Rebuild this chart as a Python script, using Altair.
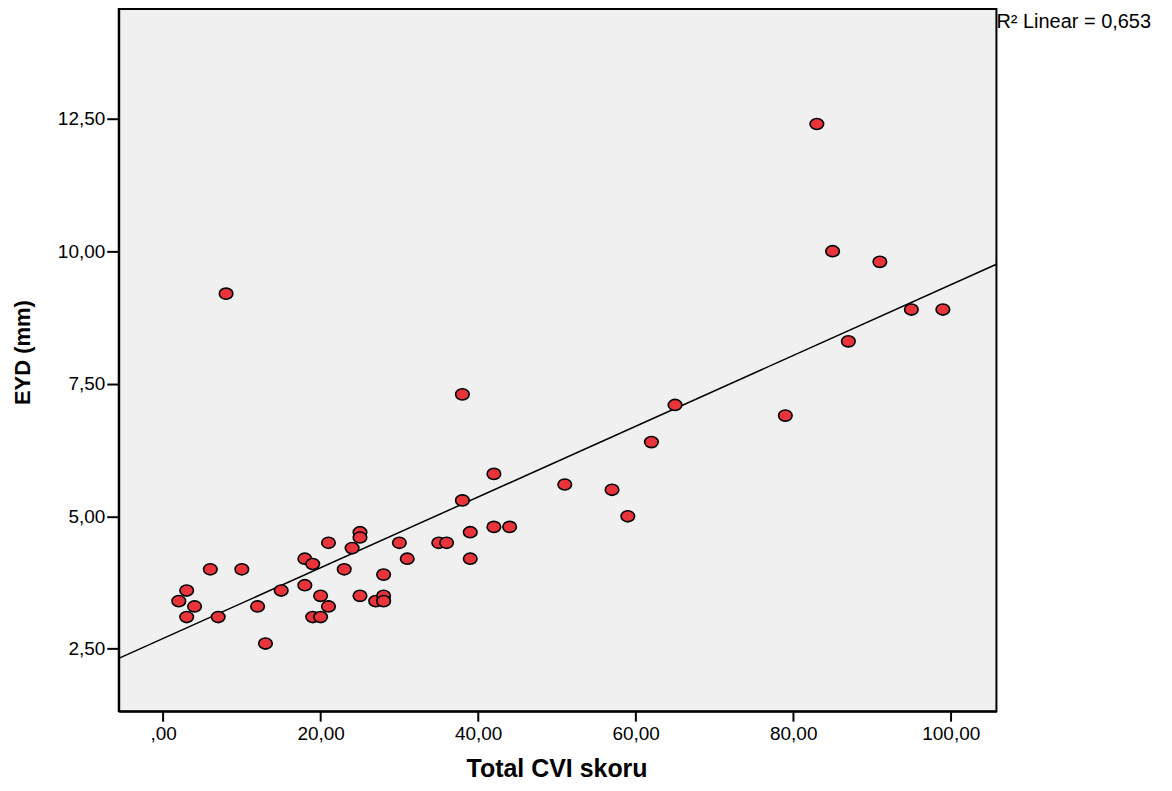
import altair as alt
import pandas as pd

cvi = [2, 3, 4, 3, 6, 7, 8, 10, 12, 13, 15, 18, 18, 19, 19, 20, 20, 21, 21, 23,
       24, 25, 25, 25, 27, 28, 28, 28, 30, 31, 35, 36, 38, 38, 39, 39, 42, 42, 44,
       51, 57, 59, 62, 65, 79, 83, 85, 87, 91, 95, 99]
eyd = [3.4, 3.6, 3.3, 3.1, 4.0, 3.1, 9.2, 4.0, 3.3, 2.6, 3.6, 4.2, 3.7, 4.1, 3.1, 3.1, 3.5, 4.5, 3.3, 4.0,
       4.4, 4.7, 4.6, 3.5, 3.4, 3.9, 3.5, 3.4, 4.5, 4.2, 4.5, 4.5, 7.3, 5.3, 4.7, 4.2, 5.8, 4.8, 4.8,
       5.6, 5.5, 5.0, 6.4, 7.1, 6.9, 12.4, 10.0, 8.3, 9.8, 8.9, 8.9]
x_ticks = [0, 20, 40, 60, 80, 100]
y_ticks = [2.5, 5.0, 7.5, 10.0, 12.5]
r2_label = ["R\u00b2  Linear = 0,653"]

df = pd.DataFrame({"cvi": cvi, "eyd": eyd})
x_dom = [-5.63, 105.8]
y_dom = [1.324, 14.569]

FONT = "Liberation Sans"

x_axis = alt.Axis(
    values=x_ticks,
    labelExpr="datum.value == 0 ? ',00' : replace(format(datum.value, '.2f'), '.', ',')",
    title="Total CVI skoru", titleFontSize=25, titleFontWeight="bold", titleFont=FONT,
    titleX=439, titleY=57, titleBaseline="middle", titleAlign="center",
    labelFont=FONT, labelFontSize=19, labelColor="black", labelPadding=3,
    tickSize=10, tickWidth=2, tickColor="black", domainColor="black", domainWidth=2,
    grid=False,
)
y_axis = alt.Axis(
    values=y_ticks,
    labelExpr="replace(format(datum.value, '.2f'), '.', ',')",
    title="EYD (mm)", titleFontSize=22, titleFontWeight="bold", titleFont=FONT,
    titleAngle=-90, titleX=-96, titleY=344, titleBaseline="middle", titleAlign="center",
    labelFont=FONT, labelFontSize=19, labelColor="black", labelPadding=2,
    tickSize=12, tickWidth=2, tickColor="black", domainColor="black", domainWidth=2,
    grid=False,
)

base = alt.Chart(df)

line = base.transform_regression("cvi", "eyd", extent=x_dom).mark_line(
    color="black", strokeWidth=1.5, clip=True
).encode(
    x=alt.X("cvi:Q", scale=alt.Scale(domain=x_dom, nice=False, zero=False), axis=x_axis),
    y=alt.Y("eyd:Q", scale=alt.Scale(domain=y_dom, nice=False, zero=False), axis=y_axis),
)

ellipse = "M -1 0 A 1 0.82 0 1 0 1 0 A 1 0.82 0 1 0 -1 0 Z"
points = base.mark_point(
    shape=ellipse, filled=True, fill="#E9343B", stroke="black", strokeWidth=1.6,
    size=185, opacity=1,
).encode(
    x=alt.X("cvi:Q", scale=alt.Scale(domain=x_dom, nice=False, zero=False), axis=x_axis),
    y=alt.Y("eyd:Q", scale=alt.Scale(domain=y_dom, nice=False, zero=False), axis=y_axis),
)

r2 = alt.Chart(pd.DataFrame({"t": r2_label})).mark_text(
    align="left", baseline="alphabetic", fontSize=20, font=FONT, color="black"
).encode(
    text="t:N", x=alt.value(880), y=alt.value(19)
)

chart = alt.layer(line, points, r2).properties(
    width=880, height=704,
    autosize=alt.AutoSizeParams(type="none"),
    padding={"left": 111, "top": 0, "right": 168, "bottom": 75},
).configure_view(
    fill="#F0F0F0", stroke="black", strokeWidth=2
)

chart.save("out.html", embed_options={"renderer": "svg", "actions": False})
